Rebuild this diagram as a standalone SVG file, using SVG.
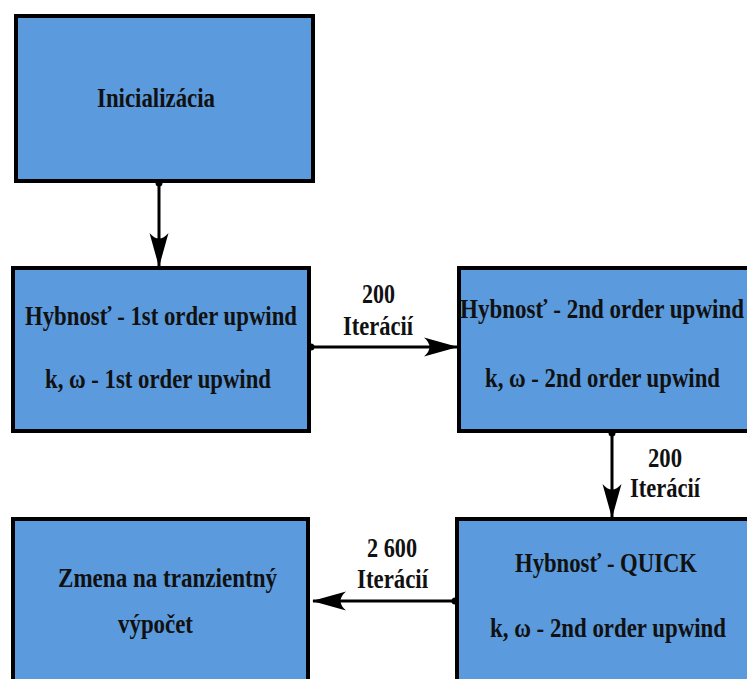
<svg xmlns="http://www.w3.org/2000/svg" width="747" height="679" viewBox="0 0 747 679">
<style>
.box{fill:#5b9bdd;stroke:#000;stroke-width:4}
.t{font-family:"Liberation Serif","Times New Roman",serif;font-weight:bold;font-size:27px;fill:#111;text-anchor:middle}
.conn{stroke:#000;stroke-width:3;fill:none;marker-end:url(#head);marker-start:url(#dot)}
</style>
<defs>
<marker id="head" markerUnits="userSpaceOnUse" viewBox="0 0 34 20" refX="33" refY="10" markerWidth="34" markerHeight="20" orient="auto">
<path d="M34,10 L0,0.5 Q11,10 0,19.5 Z" fill="#000"/>
</marker>
<marker id="dot" markerUnits="userSpaceOnUse" viewBox="0 0 8 8" refX="4" refY="4" markerWidth="8" markerHeight="8">
<circle cx="4" cy="4" r="3.5" fill="#000"/>
</marker>
</defs>
<rect width="747" height="679" fill="#fff"/>
<g id="connectors">
<line class="conn" x1="159" y1="183" x2="159" y2="266"/>
<line class="conn" x1="311" y1="347" x2="457" y2="347"/>
<line class="conn" x1="612" y1="433" x2="612" y2="517"/>
<line class="conn" x1="455" y1="601" x2="313" y2="601"/>
<text class="t" x="378.5" y="303" textLength="33" lengthAdjust="spacingAndGlyphs">200</text>
<text class="t" x="378" y="335" textLength="70" lengthAdjust="spacingAndGlyphs">Iterácií</text>
<text class="t" x="665" y="467" textLength="34" lengthAdjust="spacingAndGlyphs">200</text>
<text class="t" x="665" y="497" textLength="70" lengthAdjust="spacingAndGlyphs">Iterácií</text>
<text class="t" x="392" y="557" textLength="50" lengthAdjust="spacingAndGlyphs">2 600</text>
<text class="t" x="392.5" y="588" textLength="71" lengthAdjust="spacingAndGlyphs">Iterácií</text>
</g>
<g id="init">
<rect class="box" x="16" y="16" width="297" height="165"/>
<text class="t" x="156" y="107" font-size="29" textLength="118" lengthAdjust="spacingAndGlyphs">Inicializácia</text>
</g>
<g id="first-order">
<rect class="box" x="13" y="268" width="296" height="163"/>
<text class="t" x="161" y="325" textLength="272" lengthAdjust="spacingAndGlyphs">Hybnosť - 1st order upwind</text>
<text class="t" x="158" y="388" textLength="226" lengthAdjust="spacingAndGlyphs">k, ω - 1st order upwind</text>
</g>
<g id="second-order">
<rect class="box" x="459" y="268" width="300" height="163"/>
<text class="t" x="460" y="318" style="text-anchor:start" textLength="284" lengthAdjust="spacingAndGlyphs">Hybnosť - 2nd order upwind</text>
<text class="t" x="602.5" y="387" textLength="235" lengthAdjust="spacingAndGlyphs">k, ω - 2nd order upwind</text>
</g>
<g id="quick">
<rect class="box" x="457" y="519" width="300" height="200"/>
<text class="t" x="606" y="572" textLength="182" lengthAdjust="spacingAndGlyphs">Hybnosť - QUICK</text>
<text class="t" x="608" y="637" textLength="236" lengthAdjust="spacingAndGlyphs">k, ω - 2nd order upwind</text>
</g>
<g id="transient">
<rect class="box" x="13" y="519" width="295" height="200"/>
<text class="t" x="167.5" y="587" textLength="219" lengthAdjust="spacingAndGlyphs">Zmena na tranzientný</text>
<text class="t" x="155.5" y="633" textLength="75" lengthAdjust="spacingAndGlyphs">výpočet</text>
</g>
</svg>
